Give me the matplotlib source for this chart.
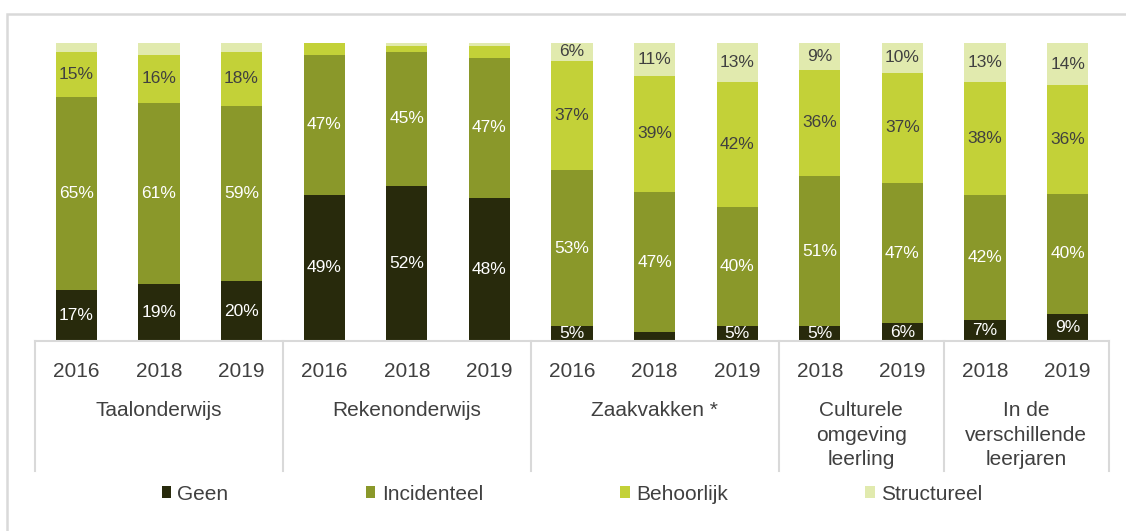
import matplotlib
matplotlib.use("Agg")
import matplotlib.pyplot as plt
from matplotlib.patches import Rectangle
from matplotlib.lines import Line2D
import numpy as np

# ---- data ----
groups = ["Taalonderwijs", "Rekenonderwijs", "Zaakvakken *",
          "Culturele\nomgeving\nleerling", "In de\nverschillende\nleerjaren"]
group_years = [["2016", "2018", "2019"], ["2016", "2018", "2019"],
               ["2016", "2018", "2019"], ["2018", "2019"], ["2018", "2019"]]
series_names = ["Geen", "Incidenteel", "Behoorlijk", "Structureel"]
geen = [17, 19, 20, 49, 52, 48, 5, 3, 5, 5, 6, 7, 9]
incidenteel = [65, 61, 59, 47, 45, 47, 53, 47, 40, 51, 47, 42, 40]
behoorlijk = [15, 16, 18, 4, 2, 4, 37, 39, 42, 36, 37, 38, 36]
structureel = [3, 4, 3, 0, 1, 1, 6, 11, 13, 9, 10, 13, 14]

colors = ["#282a0c", "#8a982a", "#c3d138", "#e1eaae"]
label_colors = ["white", "white", "#404040", "#404040"]

plt.rcParams["font.family"] = ["Liberation Sans", "DejaVu Sans"]
fs_tick, fs_lab = 15, 12.5

W, H = 1126, 531
fig = plt.figure(figsize=(W / 100, H / 100), dpi=100)
fig.patch.set_facecolor("white")

# outer frame
fig.add_artist(Rectangle((7 / W, -0.05), 1.2, (531 - 14) / H + 0.05, transform=fig.transFigure,
                         fill=False, edgecolor="#d9d9d9", linewidth=1.8))

ax_l, ax_r, ax_b, ax_t = 35, 1109, 341, 43
ax = fig.add_axes([ax_l / W, (H - ax_b) / H, (ax_r - ax_l) / W, (ax_b - ax_t) / H])

years = [y for ys in group_years for y in ys]
n = len(years)
x = np.arange(n)
series = [np.array(s, dtype=float) for s in (geen, incidenteel, behoorlijk, structureel)]
totals = np.sum(series, axis=0)
bottom = np.zeros(n)
for name, vals, col, lcol in zip(series_names, series, colors, label_colors):
    share = vals / totals * 100  # 100% stacked
    bc = ax.bar(x, share, 0.5, bottom=bottom, color=col, label=name, linewidth=0)
    labels = [f"{int(v)}%" if v >= 5 else "" for v in vals]
    ax.bar_label(bc, labels=labels, label_type="center", color=lcol, fontsize=fs_lab)
    bottom += share

ax.set_xlim(-0.5, n - 0.5)
ax.set_ylim(0, 100)
for s in ax.spines.values():
    s.set_visible(False)
ax.set_yticks([])
ax.set_xticks(x)
ax.set_xticklabels(years, fontsize=fs_tick, color="#404040")
ax.tick_params(axis="x", length=0, pad=15)

# axis line and group separators
grid_col = "#d9d9d9"
depth = (471 - ax_b) / (ax_b - ax_t)
ax.add_line(Line2D([-0.5, n - 0.5], [0, 0], color=grid_col, lw=1.5, clip_on=False,
                   transform=ax.get_xaxis_transform()))
bounds = [-0.5]
pos = 0
for ys in group_years:
    pos += len(ys)
    bounds.append(pos - 0.5)
for b in bounds:
    ax.add_line(Line2D([b, b], [0, -depth], color=grid_col, lw=1.5, clip_on=False,
                       transform=ax.get_xaxis_transform()))

# group labels
ytop = -(401 - ax_b) / (ax_b - ax_t)
for i, g in enumerate(groups):
    cx = (bounds[i] + bounds[i + 1]) / 2
    ax.text(cx, ytop, g, ha="center", va="top", fontsize=fs_tick, color="#404040",
            linespacing=1.38, transform=ax.get_xaxis_transform())

# legend
leg = fig.legend(loc="center", bbox_to_anchor=(572 / W, (H - 494) / H), ncol=4, frameon=False,
                 handlelength=0.45, handleheight=0.45, handletextpad=0.3,
                 columnspacing=6.6, fontsize=fs_tick)
for t in leg.get_texts():
    t.set_color("#404040")

fig.savefig("out.png", dpi=100, facecolor="white")
